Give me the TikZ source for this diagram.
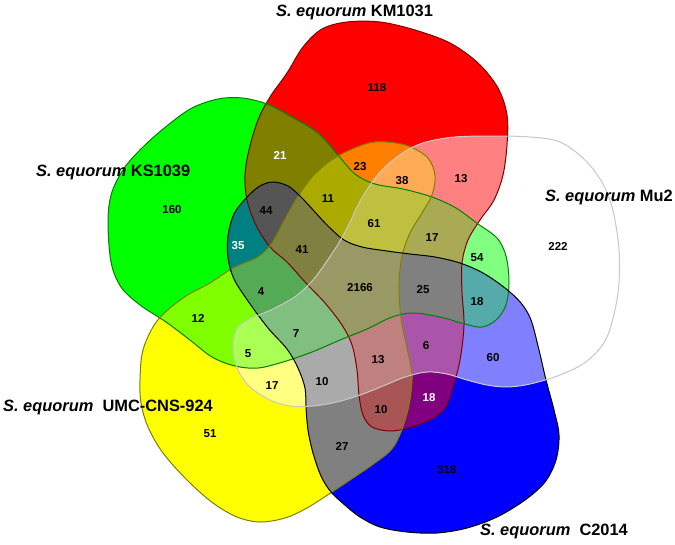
\documentclass[tikz,border=0pt]{standalone}
\usepackage{fontspec}
\setmainfont{Liberation Sans}
\definecolor{edgeR}{RGB}{128,0,0}
\definecolor{edgeG}{RGB}{0,128,0}
\definecolor{edgeY}{RGB}{128,128,0}
\definecolor{edgeB}{RGB}{0,0,0}
\definecolor{edgeW}{RGB}{200,200,200}
\def\shpR{plot[smooth cycle,tension=0.55] coordinates {(287,73) (303,47) (322,29) (347,22) (380,22) (415,30) (450,43) (478,63) (498,88) (507,115) (507,145) (503,175) (494,200) (480,220) (468,240) (462,263) (462,292) (464,325) (460,360) (453,387) (445,408) (430,420) (408,428) (390,431) (372,427) (363,415) (359,395) (357,370) (352,345) (342,325) (325,303) (305,282) (287,262) (270,247) (256,225) (247,200) (245,175) (249,150) (258,120) (270,97)}}
\def\shpG{plot[smooth cycle,tension=0.55] coordinates {(108,220) (112,192) (125,167) (145,145) (168,125) (192,108) (218,99) (242,98) (267,104) (292,117) (318,133) (338,155) (355,174) (375,184) (403,189) (432,197) (456,208) (478,224) (497,238) (506,256) (509,282) (506,305) (496,320) (482,327) (465,324) (440,317) (413,313) (392,317) (367,329) (340,340) (312,352) (283,362) (258,368) (235,366) (212,357) (190,340) (166,322) (140,305) (121,287) (111,262)}}
\def\shpY{plot[smooth cycle,tension=0.55] coordinates {(140,380) (143,350) (157,321) (183,298) (210,283) (233,268) (258,257) (272,243) (284,221) (297,198) (312,177) (330,161) (350,150) (375,142) (405,145) (427,157) (435,175) (432,195) (422,213) (410,233) (402,256) (399,285) (401,318) (407,348) (412,375) (409,405) (401,432) (391,450) (372,465) (347,482) (329,494) (307,508) (285,518) (260,522) (237,517) (213,503) (187,480) (163,453) (148,427) (141,403)}}
\def\shpB{plot[smooth cycle,tension=0.55] coordinates {(247,197) (260,186) (273,182) (288,186) (301,197) (314,211) (328,226) (344,240) (362,247) (387,251) (410,254) (435,257) (460,263) (483,273) (505,288) (521,303) (531,320) (539,350) (546,380) (554,410) (559,435) (556,460) (545,482) (525,500) (497,517) (467,528) (437,533) (407,532) (380,527) (360,517) (346,506) (331,492) (321,476) (313,453) (308,430) (306,407) (305,388) (298,368) (287,349) (268,328) (248,301) (234,279) (228,258) (228,236) (234,214)}}
\def\shpW{plot[smooth cycle,tension=0.55] coordinates {(430,141) (455,137) (490,136) (530,137) (560,142) (585,160) (603,184) (613,211) (619,250) (618,293) (607,337) (587,361) (560,375) (530,384) (507,387) (487,385) (467,380) (447,374) (427,372) (405,377) (383,386) (360,395) (337,402) (313,406) (290,406) (270,400) (250,387) (238,370) (233,348) (237,329) (250,319) (273,309) (296,296) (313,280) (327,261) (340,241) (350,222) (358,205) (368,188) (382,170) (397,157) (413,147)}}
\begin{document}
\begin{tikzpicture}[x=1pt,y=-1pt,
  num/.style={font=\fontsize{11.5}{13}\selectfont\bfseries, inner sep=0pt},
  wnum/.style={num, text=white},
  ttl/.style={font=\fontsize{16.4}{18}\selectfont\bfseries, inner sep=0pt, anchor=west},
  edge/.style={line width=1pt, line join=round}]
\useasboundingbox (0,0) rectangle (675,544);
\fill[white] (0,0) rectangle (675,544);
% regions: colour = average of the colours of the sets containing it
\foreach \n in {1,2,4,8,16,3,5,6,9,10,12,17,18,20,24,7,11,13,14,19,21,22,25,26,28,15,23,27,29,30,31}{
  \pgfmathtruncatemacro\bR{mod(\n,2)}
  \pgfmathtruncatemacro\bG{mod(floor(\n/2),2)}
  \pgfmathtruncatemacro\bY{mod(floor(\n/4),2)}
  \pgfmathtruncatemacro\bB{mod(floor(\n/8),2)}
  \pgfmathtruncatemacro\bW{mod(floor(\n/16),2)}
  \pgfmathtruncatemacro\cnt{\bR+\bG+\bY+\bB+\bW}
  \pgfmathtruncatemacro\colR{round(255*(\bR+\bY+\bW)/\cnt)}
  \pgfmathtruncatemacro\colG{round(255*(\bG+\bY+\bW)/\cnt)}
  \pgfmathtruncatemacro\colB{round(255*(\bB+\bW)/\cnt)}
  \definecolor{regc}{RGB}{\colR,\colG,\colB}
  \begin{scope}
    \ifnum\bR=1 \clip \shpR;\fi
    \ifnum\bG=1 \clip \shpG;\fi
    \ifnum\bY=1 \clip \shpY;\fi
    \ifnum\bB=1 \clip \shpB;\fi
    \ifnum\bW=1 \clip \shpW;\fi
    \fill[regc] (0,0) rectangle (675,544);
  \end{scope}
}
\draw[edge, edgeR] \shpR;
\draw[edge, edgeG] \shpG;
\draw[edge, edgeY] \shpY;
\draw[edge, edgeB] \shpB;
\draw[edge, edgeW] \shpW;
% titles
\node[ttl] (tKM) at (276,12) {\textit{S. equorum} KM1031};
\node[ttl] (tKS) at (36,172) {\textit{S. equorum} KS1039};
\node[ttl] (tMu) at (545,197) {\textit{S. equorum} Mu2};
\node[ttl] (tUM) at (3,407) {\textit{S. equorum}\ \ UMC-CNS-924};
\node[ttl] (tC) at (480,531) {\textit{S. equorum}\ \ C2014};
% counts
\node[num] (n118) at (377,88) {118};
\node[wnum] (n21) at (280,155) {21};
\node[num] (n23) at (360,167) {23};
\node[num] (n38) at (402,181) {38};
\node[num] (n13a) at (461,179) {13};
\node[num] (n160) at (172,210) {160};
\node[num] (n44) at (266,211) {44};
\node[num] (n11) at (328,199) {11};
\node[num] (n61) at (374,224) {61};
\node[num] (n17a) at (432,238) {17};
\node[num] (n54) at (477,258) {54};
\node[num] (n222) at (558,246) {222};
\node[wnum] (n35) at (238,246) {35};
\node[num] (n41) at (302,250) {41};
\node[num] (n2166) at (360,288) {2166};
\node[num] (n25) at (423,290) {25};
\node[num] (n18a) at (477,302) {18};
\node[num] (n4) at (261,292) {4};
\node[num] (n12) at (198,318) {12};
\node[num] (n7) at (296,334) {7};
\node[num] (n5) at (248,354) {5};
\node[num] (n6) at (426,346) {6};
\node[num] (n13b) at (378,360) {13};
\node[num] (n60) at (493,358) {60};
\node[num] (n17b) at (272,386) {17};
\node[num] (n10a) at (322,382) {10};
\node[wnum] (n18b) at (429,398) {18};
\node[num] (n10b) at (381,410) {10};
\node[num] (n51) at (210,434) {51};
\node[num] (n27) at (342,446) {27};
\node[num] (n318) at (447,470) {318};
\end{tikzpicture}
\end{document}
